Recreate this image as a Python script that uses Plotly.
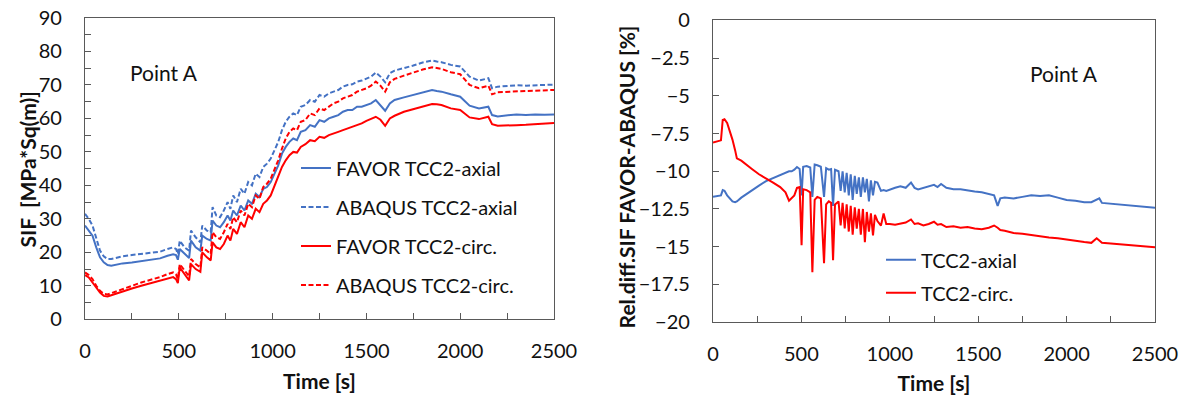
import plotly.graph_objects as go

# ---------------- Left chart data: SIF vs time ----------------
T_LEFT = [0, 20, 40, 60, 80, 100, 120, 140, 170, 200,
          250, 300, 350, 400, 440, 470, 485, 495, 505, 530,
          555, 565, 590, 615, 625, 650, 670, 680, 700, 720,
          740, 760, 775, 790, 810, 830, 850, 870, 890, 910,
          930, 950, 970, 990, 1010, 1030, 1050, 1070, 1090, 1110,
          1130, 1150, 1175, 1200, 1225, 1250, 1275, 1300, 1325, 1350,
          1375, 1400, 1425, 1450, 1475, 1500, 1525, 1550, 1575, 1600,
          1625, 1650, 1700, 1750, 1800, 1850, 1875, 1900, 1950, 2000,
          2050, 2100, 2150, 2170, 2200, 2250, 2300, 2350, 2400, 2450,
          2500]

FAVOR_AXIAL = [28, 26.5, 25, 21.5, 18.5, 17, 16.2, 16, 16.4, 16.7,
               17, 17.4, 17.8, 18.2, 19, 19.4, 19.2, 17.8, 21, 19.5,
               18.3, 23.5, 21.5, 20.5, 25, 24, 23.5, 29.5, 28, 27.5,
               29, 31, 29.5, 32.5, 31, 34, 32.5, 35.5, 34.5, 37.5,
               36.5, 39, 39.5, 41, 43.5, 46, 49.5, 51.5, 53, 54,
               53.5, 56, 56.5, 58, 57.5, 59.5, 59, 60, 60.5, 61,
               62, 62.5, 62.5, 63.5, 63.5, 64, 64.5, 65.5, 64, 62.3,
               64.5, 65.5, 66.3, 67, 67.8, 68.5, 68.2, 68, 67.2, 66.5,
               63.8, 63, 63.5, 61, 60.6, 61, 61.2, 61, 61.2, 61.1,
               61.2]

ABAQUS_AXIAL = [31.5, 30, 28, 24, 20.5, 18.8, 18, 18, 18.5, 18.8,
                19.2, 19.5, 19.8, 20.2, 21, 21.5, 21, 19.5, 23.5, 21.5,
                20.5, 26.5, 24.5, 23, 28, 26.5, 26, 33.5, 31, 30.5,
                32.5, 35, 33, 37, 35, 39, 37.5, 41, 40, 43.5,
                42.5, 45.5, 46.5, 48, 50.5, 53, 56.5, 59, 60.5, 61.5,
                61, 63.5, 64, 65.5, 65, 67, 66.5, 67.5, 68, 68.5,
                69.5, 70, 70.2, 71, 71.3, 72, 72.5, 73.7, 72.5, 70.8,
                73.5, 74.3, 75, 75.8, 76.7, 77.3, 77, 76.8, 76, 75.5,
                72.5, 71.3, 72, 69, 69.5, 69.8, 69.9, 69.8, 70, 70,
                70.1]

FAVOR_CIRC = [13.2, 12.5, 11, 9.5, 8, 7, 6.8, 7.2, 7.8, 8.4,
              9.2, 10, 10.8, 11.5, 12.3, 12.6, 12, 10.8, 15.5, 13.5,
              11.6, 16.5, 15, 14.2, 20, 18.5, 17.6, 23, 21.5, 21,
              22.5, 25, 23.5, 27, 25.5, 29, 27.5, 31, 30, 33,
              32, 34.5, 35.5, 37, 40, 43, 45.5, 47.5, 49, 50,
              49.8, 51.5, 52.3, 53.5, 53.2, 54.5, 54.2, 55, 55.4, 56,
              56.5, 57, 57.5, 58.2, 58.5, 59.3, 59.8, 60.5, 59.6, 57.8,
              60, 60.8, 62, 62.8, 63.6, 64.3, 64.2, 64, 63, 62.5,
              60.3, 59.8, 60.5, 58.3, 57.8, 58, 58, 58.1, 58.3, 58.4,
              58.6]

ABAQUS_CIRC = [14, 13.2, 12, 10, 8.5, 7.6, 7.4, 7.8, 8.5, 9.2,
               10.2, 11, 11.8, 12.6, 13.5, 14, 13.4, 12, 16.5, 14.5,
               12.8, 18, 16.5, 15.5, 21.5, 20.5, 19.5, 26, 24.5, 24,
               26, 28.5, 27, 30.5, 29, 32.5, 31, 34.5, 33.5, 37,
               36, 39.5, 40.5, 42, 44.5, 47.5, 51, 54, 56, 57,
               56.5, 59, 59.5, 61.5, 61, 63, 62.5, 63.5, 64.5, 65,
               66, 66.5, 67, 68, 68.5, 69, 69.8, 71, 69.8, 68,
               70.8, 71.8, 72.8, 73.8, 74.6, 75.3, 75, 74.8, 73.8, 73.2,
               70, 69, 69.8, 67.2, 67.8, 68, 68.2, 68.2, 68.3, 68.4,
               68.5]

# ---------------- Right chart data: relative difference ----------------
T_RIGHT = [0, 20, 45, 55, 65, 80, 95, 110, 125, 135,
           160, 190, 220, 260, 300, 340, 380, 410, 430, 445,
           460, 475, 490, 501, 510, 530, 550, 562, 575, 590,
           610, 628, 640, 655, 668, 679, 690, 710, 722, 733,
           745, 756, 768, 779, 790, 802, 813, 825, 836, 848,
           859, 870, 882, 893, 905, 916, 930, 950, 965, 980,
           1000, 1030, 1060, 1090, 1120, 1140, 1160, 1190, 1220, 1250,
           1270, 1290, 1320, 1360, 1400, 1440, 1480, 1520, 1560, 1590,
           1610, 1625, 1650, 1700, 1750, 1800, 1850, 1900, 1950, 2000,
           2050, 2100, 2140, 2170, 2185, 2200, 2250, 2300, 2350, 2400,
           2450, 2500]

REL_AXIAL = [-11.7, -11.65, -11.6, -11.25, -11.3, -11.6, -11.8, -12.0, -12.05, -12.0,
             -11.75, -11.5, -11.3, -10.95, -10.65, -10.45, -10.25, -10.12, -10.0, -10.0,
             -9.9, -9.72, -9.85, -11.6, -9.7, -9.65, -9.75, -11.7, -9.55, -9.6,
             -9.7, -11.7, -9.8, -9.9, -9.85, -12.3, -9.9, -10.0, -11.3, -10.0,
             -11.4, -10.1, -11.6, -10.2, -11.9, -10.3, -11.5, -10.4, -11.7, -10.4,
             -11.4, -10.5, -12.0, -10.6, -11.6, -10.7, -10.75, -11.3, -11.25, -11.3,
             -11.2, -11.1, -11.0, -11.1, -10.75, -11.1, -11.2, -11.1, -10.95, -10.9,
             -11.05, -10.85, -11.1, -11.2, -11.2, -11.3, -11.35, -11.4, -11.5, -11.6,
             -12.3, -11.8, -11.75, -11.8, -11.7, -11.6, -11.65, -11.6, -11.75, -11.9,
             -11.95, -12.05, -12.05, -11.85, -11.8, -12.1, -12.15, -12.2, -12.25, -12.3,
             -12.35, -12.42]

REL_CIRC = [-8.1, -8.05, -7.95, -6.6, -6.55, -6.8, -7.3, -7.9, -8.6, -9.15,
            -9.3, -9.55, -9.85, -10.2, -10.45, -10.75, -11.05, -11.4, -11.95, -11.8,
            -11.6, -11.1, -11.05, -14.9, -11.2, -11.25, -11.4, -16.7, -11.9, -11.7,
            -11.8, -16.1, -12.2, -12.0, -12.1, -15.9, -12.2, -12.0, -13.6, -12.1,
            -13.8, -12.2, -14.0, -12.3, -14.2, -12.4, -13.8, -12.5, -14.2, -12.5,
            -14.7, -12.7, -14.0, -12.8, -14.25, -12.9, -13.3, -13.6, -12.8, -13.5,
            -13.5, -13.55, -13.5, -13.4, -13.2, -13.5, -13.45, -13.6, -13.5, -13.35,
            -13.55, -13.5, -13.7, -13.65, -13.75, -13.7, -13.8, -13.85, -13.75, -13.6,
            -13.75, -13.9, -13.95, -14.1, -14.15, -14.25, -14.3, -14.4, -14.45, -14.55,
            -14.6, -14.7, -14.75, -14.45, -14.6, -14.75, -14.8, -14.85, -14.9, -14.95,
            -15.0, -15.05]

LEFT_NAMES = ["FAVOR TCC2-axial", "ABAQUS TCC2-axial", "FAVOR TCC2-circ.", "ABAQUS TCC2-circ."]
RIGHT_NAMES = ["TCC2-axial", "TCC2-circ."]

BLUE = "#4472C4"
RED = "#FF0000"
AXIS = "#595959"
TEXT = "#111111"
FONT = "Lato"

fig = go.Figure()

left_series = [FAVOR_AXIAL, ABAQUS_AXIAL, FAVOR_CIRC, ABAQUS_CIRC]
left_colors = [BLUE, BLUE, RED, RED]
left_dash = ["solid", "5px,2.5px", "solid", "5px,2.5px"]
for i, (vals, name) in enumerate(zip(left_series, LEFT_NAMES)):
    fig.add_trace(go.Scatter(x=T_LEFT, y=vals, name=name, mode="lines",
                             line=dict(color=left_colors[i], width=2, dash=left_dash[i]),
                             xaxis="x", yaxis="y", legend="legend", legendgroup=f"l{i}"))

for i, (vals, name, col) in enumerate(zip([REL_AXIAL, REL_CIRC], RIGHT_NAMES, [BLUE, RED])):
    fig.add_trace(go.Scatter(x=T_RIGHT, y=vals, name=name, mode="lines",
                             line=dict(color=col, width=2),
                             xaxis="x2", yaxis="y2", legend="legend2", legendgroup=f"r{i}"))

# Page body margin is removed (post_script below), so figure pixels = page pixels.
W, H = 1189, 398
ML, MT = 85, 17.5
MR = W - 1155
MB = H - 321.7
PW = W - ML - MR
PH = H - MT - MB

def fx(p):
    return (p - ML) / PW

def fy(p):
    return (H - MB - p) / PH

common_axis = dict(showline=True, linecolor=AXIS, linewidth=1.3, mirror=True,
                   showgrid=False, zeroline=False, ticks="inside", ticklen=6,
                   tickcolor=AXIS, tickwidth=1.3, automargin=False,
                   ticklabeloverflow="allow",
                   tickfont=dict(family=FONT, size=20, color=TEXT))
title_font = dict(family=FONT, size=21, color=TEXT)

fig.update_layout(
    width=W, height=H,
    margin=dict(l=ML, r=MR, t=MT, b=MB, autoexpand=False),
    paper_bgcolor="white", plot_bgcolor="white",
    font=dict(family=FONT, color=TEXT),
    xaxis=dict(domain=[fx(85), fx(554)], range=[0, 2500], dtick=500, anchor="y",
               minor=dict(dtick=250, ticks="inside", ticklen=6, tickcolor=AXIS, tickwidth=1.3),
               ticklabelstandoff=14,
               title=dict(text="<b>Time [s]</b>", font=title_font, standoff=12),
               **common_axis),
    yaxis=dict(domain=[fy(319), fy(17.5)], range=[0, 90], dtick=10, anchor="x",
               minor=dict(dtick=5, ticks="inside", ticklen=6, tickcolor=AXIS, tickwidth=1.3),
               ticklabelstandoff=18,
               **common_axis),
    xaxis2=dict(domain=[fx(713), fx(1155)], range=[0, 2500], dtick=500, anchor="y2",
                minor=dict(dtick=250, ticks="inside", ticklen=6, tickcolor=AXIS, tickwidth=1.3),
                ticklabelstandoff=14,
                title=dict(text="<b>Time [s]</b>", font=title_font, standoff=12),
                **common_axis),
    yaxis2=dict(domain=[fy(321.7), fy(20)], range=[-20, 0], dtick=2.5, anchor="x2",
                ticklabelstandoff=18,
                **common_axis),
    legend=dict(x=fx(296), y=fy(148), xanchor="left", yanchor="top",
                bgcolor="rgba(0,0,0,0)", font=dict(family=FONT, size=20, color=TEXT),
                tracegroupgap=10, itemwidth=30),
    legend2=dict(x=fx(881), y=fy(240), xanchor="left", yanchor="top",
                 bgcolor="rgba(0,0,0,0)", font=dict(family=FONT, size=20, color=TEXT),
                 tracegroupgap=4, itemwidth=30),
    annotations=[
        dict(text="<b>SIF  [MPa*Sq(m)]</b>", x=fx(27), y=fy(169), xref="paper", yref="paper",
             textangle=-90, showarrow=False, xanchor="center", yanchor="middle", font=title_font),
        dict(text="<b>Rel.diff.SIF FAVOR-ABAQUS [%]</b>", x=fx(626), y=fy(177), xref="paper", yref="paper",
             textangle=-90, showarrow=False, xanchor="center", yanchor="middle", font=title_font),
        dict(text="Point A", x=420, y=73.6, xref="x", yref="y", showarrow=False,
             font=dict(family=FONT, size=21, color=TEXT)),
        dict(text="Point A", x=1985, y=-3.5, xref="x2", yref="y2", showarrow=False,
             font=dict(family=FONT, size=21, color=TEXT)),
    ],
)

fig.write_html("out.html", config={"displayModeBar": False},
               post_script="document.body.style.margin='0px';")
